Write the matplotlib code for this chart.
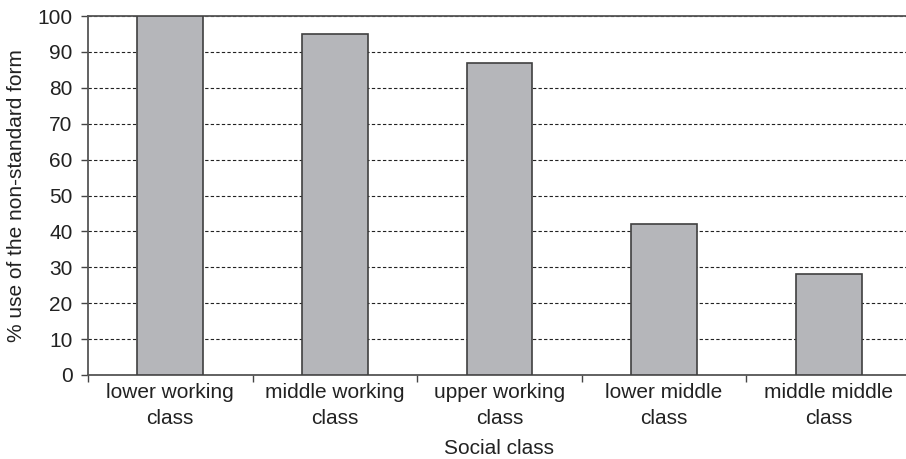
import matplotlib
matplotlib.use("Agg")
import matplotlib.pyplot as plt
import numpy as np

categories = ["lower working\nclass", "middle working\nclass", "upper working\nclass",
              "lower middle\nclass", "middle middle\nclass"]
values = [100, 95, 87, 42, 28]
y_ticks = [0, 10, 20, 30, 40, 50, 60, 70, 80, 90, 100]

plt.rcParams['font.family'] = ['Liberation Sans', 'DejaVu Sans']

fig = plt.figure(figsize=(9.06, 4.59), dpi=100)
ax = fig.add_axes([88 / 906, 84 / 459, 823 / 906, 359 / 459])

x = np.arange(len(categories))
ax.bar(x, values, width=0.4, color='#b5b6ba', edgecolor='#404040', linewidth=1.2, zorder=3)

ax.set_xlim(-0.5, len(categories) - 0.5)
ax.set_ylim(0, 100)
ax.set_yticks(y_ticks)
ax.tick_params(axis='y', labelsize=15, length=5, width=1, color='#444444', pad=6,
               labelcolor='#222222')

# category labels in the middle, tick marks on the boundaries
ax.set_xticks(np.arange(-0.5, len(categories) + 0.5, 1.0))
ax.set_xticklabels([])
ax.set_xticks(x, minor=True)
ax.set_xticklabels(categories, minor=True, fontsize=15, color='#222222', linespacing=1.45)
ax.tick_params(axis='x', which='minor', length=0, pad=6)
ax.tick_params(axis='x', which='major', length=5, width=1, color='#444444')

ax.yaxis.grid(True, linestyle=(0, (3, 2)), color='#222222', linewidth=0.8, zorder=0)
ax.set_axisbelow(True)

for side in ['left', 'bottom', 'top']:
    ax.spines[side].set_color('#555555')
    ax.spines[side].set_linewidth(1.3)
ax.spines['right'].set_visible(False)

ax.set_xlabel('Social class', fontsize=15, labelpad=8, color='#222222')
ax.set_ylabel('% use of the non-standard form', fontsize=15, labelpad=8, color='#222222')

plt.savefig('out.png', dpi=100)
